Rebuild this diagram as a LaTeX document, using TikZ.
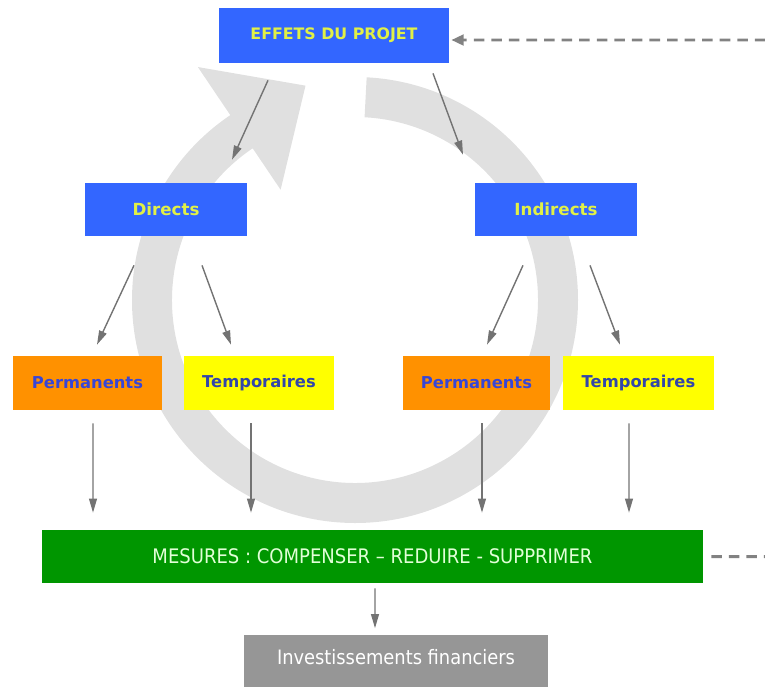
\documentclass[tikz,border=0pt]{standalone}
\usepackage{fontspec}
\setmainfont{DejaVu Sans}
\newfontfamily\condfont{DejaVu Sans Condensed}
\usetikzlibrary{arrows.meta,calc}
\definecolor{boxblue}{RGB}{51,102,255}
\definecolor{txtyellow}{RGB}{225,240,70}
\definecolor{boxorange}{RGB}{255,145,0}
\definecolor{boxyellow}{RGB}{255,255,0}
\definecolor{txtblue}{RGB}{55,70,215}
\definecolor{txtblue2}{RGB}{50,70,170}
\definecolor{boxgreen}{RGB}{0,150,0}
\definecolor{txtgreen}{RGB}{225,255,215}
\definecolor{boxgray}{RGB}{150,150,150}
\definecolor{ringgray}{RGB}{224,224,224}
\definecolor{arrgray}{RGB}{115,115,115}
\definecolor{dashgray}{RGB}{130,130,130}
\tikzset{
  base/.style={rectangle, inner sep=0pt, draw=none},
  bluebox/.style={base, fill=boxblue, text=txtyellow, font=\bfseries\fontsize{9}{10}\selectfont},
  orangebox/.style={base, fill=boxorange, text=txtblue, font=\bfseries\fontsize{9.3}{10}\selectfont},
  yellowbox/.style={base, fill=boxyellow, text=txtblue2, font=\bfseries\fontsize{9.3}{10}\selectfont},
  greenbox/.style={base, fill=boxgreen, text=txtgreen, font=\condfont\fontsize{11.4}{13}\selectfont},
  graybox/.style={base, fill=boxgray, text=white, font=\condfont\fontsize{11.3}{13}\selectfont},
  arr/.style={draw=arrgray, line width=0.8pt, -{Triangle[length=8pt,width=4.5pt]}},
  dasharr/.style={draw=dashgray, line width=1.7pt, dash pattern=on 6pt off 4pt, -{Triangle[length=7pt,width=6pt]}}
}
\begin{document}
\begin{tikzpicture}[x=0.02cm,y=-0.02cm]
\useasboundingbox (0,0) rectangle (765,687);
\clip (0,0) rectangle (765,687);
% circular arrow in background
\begin{scope}[shift={(355,300)},x=0.02cm,y=0.02cm]
  \fill[ringgray] (87:223) arc[start angle=87, end angle=-236, radius=223]
    -- (124:281) -- (103:220) -- (124:133) -- (124:183)
    arc[start angle=-236, end angle=87, radius=183] -- cycle;
\end{scope}
% boxes
\node[bluebox, minimum width=4.6cm, minimum height=1.1cm] (eff) at (334,35.5) {EFFETS DU PROJET};
\node[bluebox, font=\bfseries\fontsize{9.5}{11}\selectfont, minimum width=3.24cm, minimum height=1.06cm] (dir) at (166,209.5) {Directs};
\node[bluebox, font=\bfseries\fontsize{9.5}{11}\selectfont, minimum width=3.24cm, minimum height=1.06cm] (ind) at (556,209.5) {Indirects};
\node[orangebox, minimum width=2.98cm, minimum height=1.08cm] (p1) at (87.5,383) {Permanents};
\node[yellowbox, minimum width=3.0cm, minimum height=1.08cm] (t1) at (259,383) {Temporaires};
\node[orangebox, minimum width=2.94cm, minimum height=1.08cm] (p2) at (476.5,383) {Permanents};
\node[yellowbox, minimum width=3.02cm, minimum height=1.08cm] (t2) at (638.5,383) {Temporaires};
\node[greenbox, minimum width=13.22cm, minimum height=1.06cm] (mes) at (372.5,556.5) {MESURES : COMPENSER \textendash{} REDUIRE - SUPPRIMER};
\node[graybox, minimum width=6.08cm, minimum height=1.1cm, text depth=0pt] (inv) at (396,662) {\raisebox{6pt}{Investissements financiers}};
% arrows
\draw[arr] ([shift={(-66,17)}]eff.south) -- ([shift={(66,-23)}]dir.north);
\draw[arr] ([shift={(99,10)}]eff.south) -- ([shift={(-93,-28)}]ind.north);
\draw[arr] ([shift={(-32,29)}]dir.south) -- ([shift={(9.5,-11)}]p1.north);
\draw[arr] ([shift={(36,29)}]dir.south) -- ([shift={(-28,-11)}]t1.north);
\draw[arr] ([shift={(-33,29)}]ind.south) -- ([shift={(10.5,-11)}]p2.north);
\draw[arr] ([shift={(34,29)}]ind.south) -- ([shift={(-18.5,-11)}]t2.north);
\draw[arr] ([shift={(5.5,13)}]p1.south) -- ([shift={(-279.5,-17)}]mes.north);
\draw[arr] ([shift={(-8,13)}]t1.south) -- ([shift={(-121.5,-17)}]mes.north);
\draw[arr] ([shift={(5.5,13)}]p2.south) -- ([shift={(109.5,-17)}]mes.north);
\draw[arr] ([shift={(-9.5,13)}]t2.south) -- ([shift={(256.5,-17)}]mes.north);
\draw[arr] ([shift={(2.5,5)}]mes.south) -- ([shift={(-21,-6)}]inv.north);
% feedback dashed connector
\coordinate (c1) at (770,556.5);
\coordinate (c2) at (770,40);
\draw[dasharr] ([shift={(8,0)}]mes.east) -- (c1) -- (c2) -- ([shift={(2,4.5)}]eff.east);
\end{tikzpicture}
\end{document}
